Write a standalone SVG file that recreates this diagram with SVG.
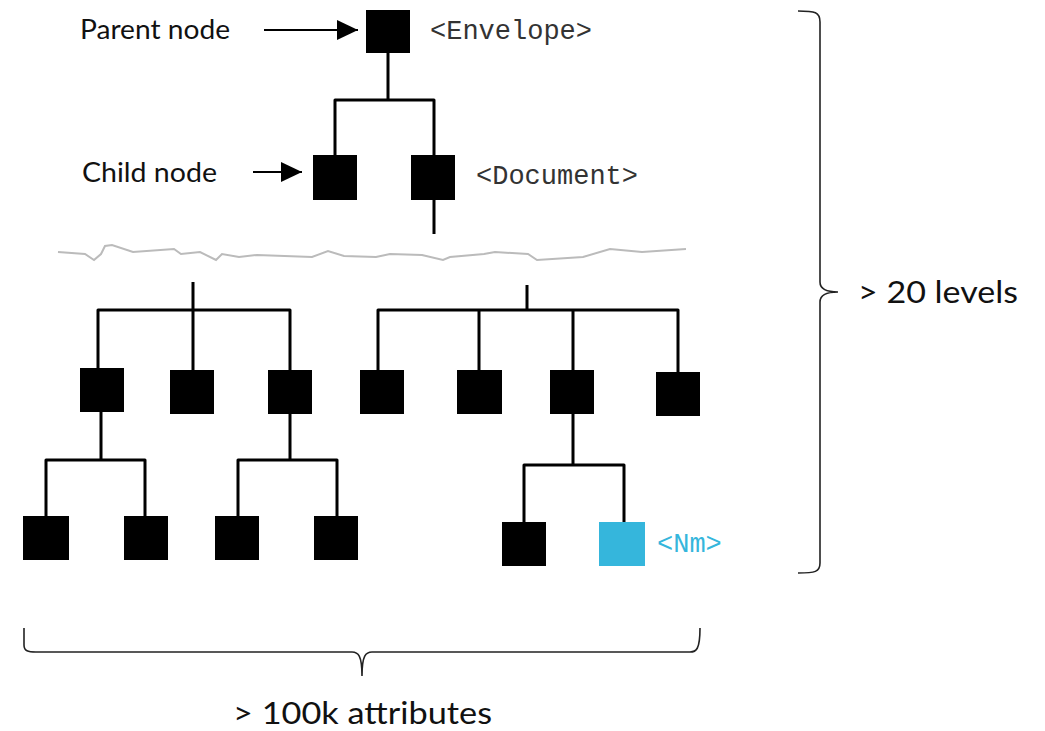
<svg xmlns="http://www.w3.org/2000/svg" width="1045" height="731" viewBox="0 0 1045 731">
<defs>
<style>
.n{fill:#000}
.hl{fill:#35b6dc}
.e{fill:none;stroke:#000;stroke-width:3;stroke-linejoin:round}
.ar{stroke:#000;stroke-width:2}
.br{fill:none;stroke:#222;stroke-width:1.6}
.lbl{font-family:Lato,"Noto Sans",sans-serif;fill:#111}
.code{font-family:"Liberation Mono",monospace;font-size:27px;fill:#333}
</style>
<marker id="ah" viewBox="0 0 21 20" refX="21" refY="10" markerWidth="21" markerHeight="20" markerUnits="userSpaceOnUse" orient="auto">
<path d="M0,0 L21,10 L0,20 z" fill="#000"/>
</marker>
</defs>
<rect width="1045" height="731" fill="#fff"/>

<g id="connectors">
<path class="e" d="M388,53 V100 M335,155 V100 H434 V155 M434,200 V234"/>
<path class="e" d="M193,282 V310 M98,368 V310 H290 V370 M193,310 V370"/>
<path class="e" d="M527,285 V310 M378,370 V310 H678 V372 M479,310 V370 M573,310 V370"/>
<path class="e" d="M101,412 V460 M46,516 V460 H145 V516"/>
<path class="e" d="M290,414 V460 M238,516 V460 H337 V516"/>
<path class="e" d="M573,414 V465 M524,522 V465 H624 V522"/>
<line class="ar" x1="264" y1="30" x2="358" y2="30" marker-end="url(#ah)"/>
<line class="ar" x1="253" y1="172" x2="302" y2="172" marker-end="url(#ah)"/>
</g>

<path id="break" fill="none" stroke="#bbb" stroke-width="2" d="M58,252 L85,254 L94,260 L101,254 L105,246 L112,245 L133,252 L174,249 L181,254 L200,252 L216,260 L222,254 L239,257 L257,255 L312,257 L328,251 L344,256 L376,257 L390,254 L422,255 L443,260 L450,257 L484,254 L495,252 L528,254 L537,260 L583,257 L610,249 L642,252 L686,249"/>

<g id="envelope"><rect class="n" x="366" y="10" width="44" height="43"/><text class="code" x="430" y="39">&lt;Envelope&gt;</text></g>
<g id="child-left"><rect class="n" x="313" y="155" width="44" height="45"/></g>
<g id="document"><rect class="n" x="411" y="155" width="44" height="45"/><text class="code" x="476" y="184">&lt;Document&gt;</text></g>

<g id="l1a"><rect class="n" x="80" y="368" width="44" height="44"/></g>
<g id="l1b"><rect class="n" x="170" y="370" width="44" height="44"/></g>
<g id="l1c"><rect class="n" x="268" y="370" width="44" height="44"/></g>
<g id="l1d"><rect class="n" x="360" y="370" width="44" height="44"/></g>
<g id="l1e"><rect class="n" x="457" y="370" width="45" height="44"/></g>
<g id="l1f"><rect class="n" x="550" y="370" width="44" height="44"/></g>
<g id="l1g"><rect class="n" x="656" y="372" width="44" height="44"/></g>

<g id="l2a"><rect class="n" x="23" y="516" width="46" height="44"/></g>
<g id="l2b"><rect class="n" x="124" y="516" width="44" height="44"/></g>
<g id="l2c"><rect class="n" x="215" y="516" width="44" height="44"/></g>
<g id="l2d"><rect class="n" x="314" y="516" width="44" height="44"/></g>
<g id="l2e"><rect class="n" x="502" y="522" width="44" height="44"/></g>
<g id="nm"><rect class="hl" x="599" y="522" width="46" height="44"/><text class="code" x="657" y="552" style="fill:#35b6dc">&lt;Nm&gt;</text></g>

<g id="labels">
<text class="lbl" x="80" y="39" font-size="27" textLength="150" lengthAdjust="spacingAndGlyphs">Parent node</text>
<text class="lbl" x="82" y="182" font-size="27" textLength="135" lengthAdjust="spacingAndGlyphs">Child node</text>
<text class="lbl" x="858" y="303" font-size="31" textLength="160" lengthAdjust="spacingAndGlyphs">&gt; 20 levels</text>
<text class="lbl" x="233" y="724" font-size="30" textLength="259" lengthAdjust="spacingAndGlyphs">&gt; 100k attributes</text>
</g>

<g id="braces">
<path class="br" d="M798,11 C815,11 820,12 820,22 L820,282 C820,289 826,292 838,292 C826,292 820,295 820,302 L820,563 C820,572 815,573 798,573"/>
<path class="br" d="M24,628 L24,645 C24,651 28,652 36,652 L352,652 C358,652 362,655 362,676 C362,655 366,652 372,652 L690,652 C696,652 700,650 700,628"/>
</g>
</svg>
